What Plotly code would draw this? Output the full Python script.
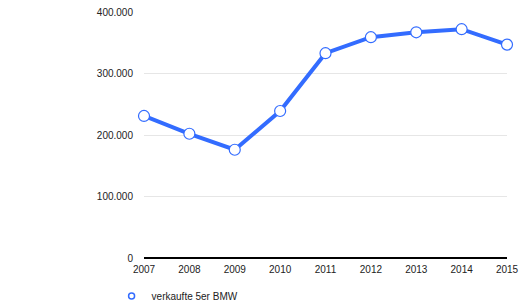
import plotly.graph_objects as go

years = [2007, 2008, 2009, 2010, 2011, 2012, 2013, 2014, 2015]
sales = [231000, 202000, 176000, 239000, 333000, 359000, 367000, 372000, 347000]
series_name = "verkaufte 5er BMW"
ytick_vals = [0, 100000, 200000, 300000, 400000]
ytick_text = ["0", "100.000", "200.000", "300.000", "400.000"]
blue = "rgb(51,108,255)"

fig = go.Figure()
fig.add_trace(go.Scatter(
    x=years, y=sales, name=series_name, mode="lines+markers", showlegend=False,
    line=dict(color=blue, width=4),
    marker=dict(size=11, color="white", line=dict(color=blue, width=1.2)),
    cliponaxis=False,
))
# legend entry (marker only)
fig.add_trace(go.Scatter(
    x=[None], y=[None], name=series_name, mode="markers", showlegend=True,
    marker=dict(size=6, color="white", line=dict(color=blue, width=1.5)),
))
fig.update_layout(
    width=519, height=303,
    margin=dict(l=144, r=12, t=12, b=45, autoexpand=False),
    plot_bgcolor="white", paper_bgcolor="white",
    font=dict(family="Liberation Sans, Arial, sans-serif", size=10, color="#222"),
    showlegend=True,
    legend=dict(orientation="h", xref="container", yref="container",
                x=0.215, xanchor="left", y=1 - 296 / 303, yanchor="middle",
                font=dict(size=10), itemwidth=30, bgcolor="rgba(0,0,0,0)"),
    xaxis=dict(range=[2007, 2015], tickvals=years, ticktext=[str(y) for y in years],
               showgrid=False, zeroline=False, showline=False, ticks="",
               ticklabelstandoff=4, automargin=False),
    yaxis=dict(range=[0, 400000], tickvals=ytick_vals, ticktext=ytick_text,
               showgrid=True, gridcolor="#e6e6e6", gridwidth=1, zeroline=True,
               zerolinecolor="black", zerolinewidth=1.5, ticks="", ticklabelstandoff=10,
               automargin=False),
)
fig.write_html("out.html")
